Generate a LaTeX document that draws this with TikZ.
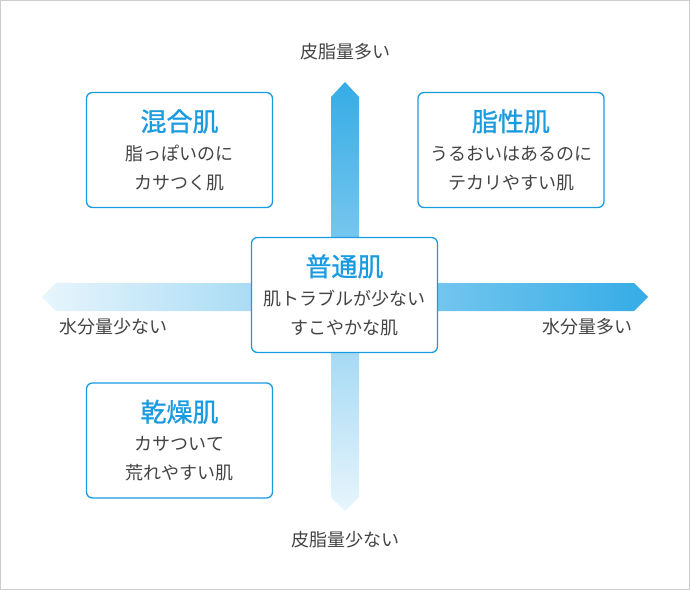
\documentclass[tikz,border=0pt]{standalone}
\usepackage{fontspec}
\setmainfont{Noto Sans CJK JP}
\newfontfamily\jpb[FakeBold=1]{Noto Sans CJK JP}
\definecolor{bdark}{HTML}{35ACE6}
\definecolor{blight}{HTML}{E8F5FC}
\definecolor{bblue}{HTML}{1A9BE0}
\definecolor{txt}{HTML}{444444}
\begin{document}
\begin{tikzpicture}[x=1pt,y=-1pt,
  box/.style={draw=bblue,line width=1.3pt,rounded corners=6pt,fill=white,minimum width=186pt,minimum height=115pt,align=center,text=txt,font=\fontsize{18}{29}\selectfont,inner sep=0pt},
  ax/.style={text=txt,font=\fontsize{18}{20}\selectfont}]
\useasboundingbox (0,0) rectangle (690,590);
\draw[gray!40] (0.5,0.5) rectangle (689.5,589.5);
\shade[top color=bdark,bottom color=blight] (345,82) -- (359,97) -- (359,497) -- (345,511) -- (331,497) -- (331,97) -- cycle;
\shade[left color=blight,right color=bdark] (42,297) -- (56,283) -- (634,283) -- (648,297) -- (634,311) -- (56,311) -- cycle;
\node[box] (a) at (179.5,150) {{\jpb\fontsize{26}{32}\selectfont\color{bblue}混合肌}\\脂っぽいのに\\カサつく肌};
\node[box] (b) at (511,150) {{\jpb\fontsize{26}{32}\selectfont\color{bblue}脂性肌}\\うるおいはあるのに\\テカリやすい肌};
\node[box] (c) at (344.5,295) {{\jpb\fontsize{26}{32}\selectfont\color{bblue}普通肌}\\肌トラブルが少ない\\すこやかな肌};
\node[box] (d) at (179.5,440.5) {{\jpb\fontsize{26}{32}\selectfont\color{bblue}乾燥肌}\\カサついて\\荒れやすい肌};
\node[ax] (t) at (345,52) {皮脂量多い};
\node[ax] (bt) at (345,540) {皮脂量少ない};
\node[ax] (l) at (113,327) {水分量少ない};
\node[ax] (r) at (587,327) {水分量多い};
\end{tikzpicture}
\end{document}
